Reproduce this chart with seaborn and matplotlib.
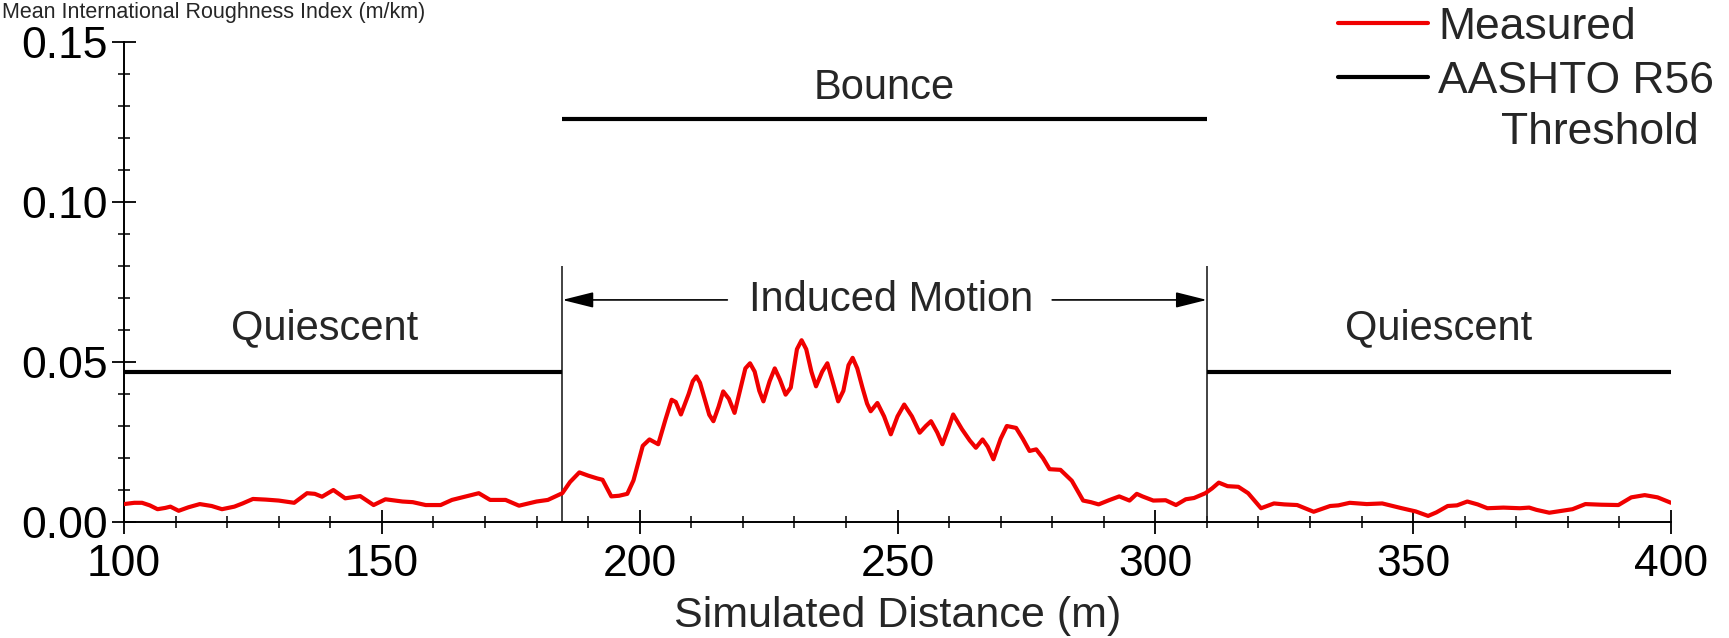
import matplotlib
matplotlib.use("Agg")
import matplotlib.pyplot as plt
from matplotlib.ticker import MultipleLocator, FormatStrFormatter
from matplotlib.lines import Line2D
import seaborn as sns
import pandas as pd

# ---------------- data ----------------
dist = [100, 102, 103.5, 105, 106.5, 108, 109, 110.6, 112.5, 114.7, 117, 119, 121.4, 123, 125,
        127.5, 130, 133, 135.5, 137, 138.4, 140.6, 142.9, 145.8, 148.4, 150.7, 154, 156, 158.5,
        161.4, 163.6, 166.6, 168.8, 171, 174, 176.6, 180, 182.2, 185, 186.5, 188.3, 190, 191.8,
        192.8, 194.5, 196, 197.6, 198.8, 200.6, 201.9, 203.6, 205, 206.2, 207, 208, 209.5, 210.3,
        211, 211.7, 212.5, 213.5, 214.3, 215.3, 216.2, 217.3, 218.4, 219.3, 220.5, 221.4, 222.3,
        223.2, 224, 225.2, 226.2, 227.2, 228.3, 229.3, 230.5, 231.4, 232.3, 233.3, 234.2, 235.4,
        236.4, 237.4, 238.5, 239.5, 240.5, 241.3, 242.2, 243.2, 244.1, 244.8, 246.1, 247.4,
        248.7, 250, 251.3, 252.8, 254.3, 255.5, 256.5, 257.7, 258.7, 259.8, 260.8, 262.5, 264,
        265.2, 266.5, 267.5, 268.6, 270, 271.2, 273, 274.3, 275.6, 276.9, 278.2, 279.5, 281.6,
        283.8, 285, 286, 287.5, 289, 291, 293, 295, 296.4, 297.5, 299.6, 302, 304, 305.9, 307.5,
        309.7, 311, 312.3, 314, 316.1, 318, 320.5, 323, 325, 327.5, 330.7, 333.9, 335.5, 337.7,
        341, 344, 347.8, 350.5, 352.9, 354.5, 356.7, 358.5, 360.5, 362.5, 364.4, 367.5, 370.7,
        372.5, 373.9, 376.4, 378.5, 380.9, 383.4, 386.5, 389.8, 392.3, 394.9, 397.4, 400]
iri = [0.0056, 0.0060, 0.0060, 0.0052, 0.0040, 0.0044, 0.0048, 0.0035, 0.0046, 0.0056, 0.0050,
       0.0040, 0.0048, 0.0058, 0.0072, 0.0070, 0.0067, 0.0060, 0.0090, 0.0088, 0.0079, 0.0100,
       0.0074, 0.0081, 0.0053, 0.0071, 0.0064, 0.0062, 0.0053, 0.0053, 0.0069, 0.0081, 0.0090,
       0.0069, 0.0069, 0.0051, 0.0064, 0.0069, 0.0090, 0.0125, 0.0155, 0.0145, 0.0136, 0.0132,
       0.0080, 0.0082, 0.0088, 0.0130, 0.0238, 0.0258, 0.0243, 0.0320, 0.0382, 0.0375, 0.0336,
       0.0400, 0.0440, 0.0455, 0.0435, 0.0390, 0.0335, 0.0315, 0.0360, 0.0408, 0.0385, 0.0341,
       0.0400, 0.0480, 0.0496, 0.0470, 0.0410, 0.0377, 0.0440, 0.0480, 0.0445, 0.0398, 0.0420,
       0.0540, 0.0568, 0.0540, 0.0470, 0.0424, 0.0470, 0.0496, 0.0440, 0.0377, 0.0410, 0.0490,
       0.0513, 0.0480, 0.0420, 0.0370, 0.0346, 0.0372, 0.0330, 0.0274, 0.0330, 0.0367, 0.0330,
       0.0279, 0.0300, 0.0315, 0.0280, 0.0243, 0.0290, 0.0336, 0.0290, 0.0255, 0.0232, 0.0258,
       0.0235, 0.0196, 0.0260, 0.0300, 0.0294, 0.0260, 0.0222, 0.0227, 0.0200, 0.0165, 0.0163,
       0.0129, 0.0095, 0.0067, 0.0062, 0.0055, 0.0068, 0.0080, 0.0067, 0.0088, 0.0080, 0.0067,
       0.0068, 0.0053, 0.0071, 0.0075, 0.0090, 0.0105, 0.0123, 0.0112, 0.0110, 0.0090, 0.0043,
       0.0058, 0.0055, 0.0053, 0.0032, 0.0050, 0.0052, 0.0060, 0.0056, 0.0058, 0.0043, 0.0033,
       0.0019, 0.0030, 0.0050, 0.0052, 0.0064, 0.0055, 0.0043, 0.0045, 0.0043, 0.0045, 0.0038,
       0.0029, 0.0034, 0.0040, 0.0056, 0.0054, 0.0053, 0.0077, 0.0084, 0.0077, 0.0060]

# threshold segments (AASHTO R56)
seg_names = ["Quiescent", "Bounce", "Quiescent"]
seg_start = [100, 185, 310]
seg_end = [185, 310, 400]
seg_threshold = [0.047, 0.126, 0.047]

x_ticks = [100, 150, 200, 250, 300, 350, 400]
y_ticks = [0.00, 0.05, 0.10, 0.15]

legend_labels = ["Measured", "AASHTO R56", "Threshold"]

# ---------------- style ----------------
sns.set_theme(style="ticks")
plt.rcParams["font.family"] = ["Liberation Sans", "DejaVu Sans"]

W, H = 1729, 638
fig = plt.figure(figsize=(W / 100, H / 100), dpi=100)
ax = fig.add_axes([124 / W, 1 - 522 / H, (1671 - 124) / W, (522 - 42) / H])


def fx(px):
    return px / W


def fy(py):
    return 1 - py / H


RED = "#f00000"
df = pd.DataFrame({"dist": dist, "iri": iri})
sns.lineplot(data=df, x="dist", y="iri", ax=ax, color=RED, lw=3.0,
             estimator=None, sort=False, zorder=3)

# threshold lines
for s, e, t in zip(seg_start, seg_end, seg_threshold):
    ax.hlines(t, s, e, color="black", lw=3.0, zorder=4)

# boundaries of induced motion
ax.vlines([seg_start[1], seg_end[1]], 0, 0.08, color="#222222", lw=1.2, zorder=2)

fs = 30
# segment labels
ax.text((seg_start[0] + seg_end[0]) / 2 - 3.6, 0.0605, seg_names[0], ha="center", va="center", fontsize=fs)
ax.text((seg_start[2] + seg_end[2]) / 2, 0.0605, seg_names[2], ha="center", va="center", fontsize=fs)
ax.text((seg_start[1] + seg_end[1]) / 2, 0.1355, seg_names[1], ha="center", va="center", fontsize=fs)

# induced motion arrows
ax.text(248.7, 0.0694, "Induced Motion", ha="center", va="center", fontsize=fs)
astyle = dict(arrowstyle="-|>,head_length=1.2,head_width=0.3", color="black", lw=1.2,
              mutation_scale=16, shrinkA=0, shrinkB=0)
ax.annotate("", xy=(seg_start[1], 0.0694), xytext=(217, 0.0694), arrowprops=astyle)
ax.annotate("", xy=(seg_end[1], 0.0694), xytext=(280, 0.0694), arrowprops=astyle)

# axes
ax.set_xlim(100, 400)
ax.set_ylim(0, 0.15)
ax.set_xticks(x_ticks)
ax.set_yticks(y_ticks)
ax.xaxis.set_minor_locator(MultipleLocator(10))
ax.yaxis.set_minor_locator(MultipleLocator(0.01))
ax.yaxis.set_major_formatter(FormatStrFormatter("%.2f"))
ax.tick_params(which="major", direction="inout", length=17, width=1.3, colors="black",
               labelsize=32)
ax.tick_params(which="minor", direction="inout", length=9, width=1.1, colors="black")
ax.tick_params(axis="x", which="major", pad=7)
ax.tick_params(axis="y", which="major", pad=3)
sns.despine(ax=ax)
for sp in ("left", "bottom"):
    ax.spines[sp].set_linewidth(1.4)
    ax.spines[sp].set_color("black")
ax.set_xlabel("Simulated Distance (m)", fontsize=31, labelpad=8)
ax.set_ylabel("")
ax.set_facecolor("white")
fig.patch.set_facecolor("white")

# axis title at the top-left
fig.text(fx(2), fy(18), "Mean International Roughness Index (m/km)", ha="left",
         va="baseline", fontsize=15.5)

# legend (drawn in figure coordinates)
lfs = 32
fig.add_artist(Line2D([fx(1338), fx(1428)], [fy(23), fy(23)], color=RED, lw=3.0,
                      transform=fig.transFigure))
fig.add_artist(Line2D([fx(1338), fx(1428)], [fy(77), fy(77)], color="black", lw=3.0,
                      transform=fig.transFigure))
fig.text(fx(1438), fy(39), legend_labels[0], ha="left", va="baseline", fontsize=lfs)
fig.text(fx(1438), fy(93), legend_labels[1], ha="left", va="baseline", fontsize=lfs)
fig.text(fx(1600), fy(144), legend_labels[2], ha="center", va="baseline", fontsize=lfs)

fig.savefig("out.png", dpi=100, facecolor="white")
